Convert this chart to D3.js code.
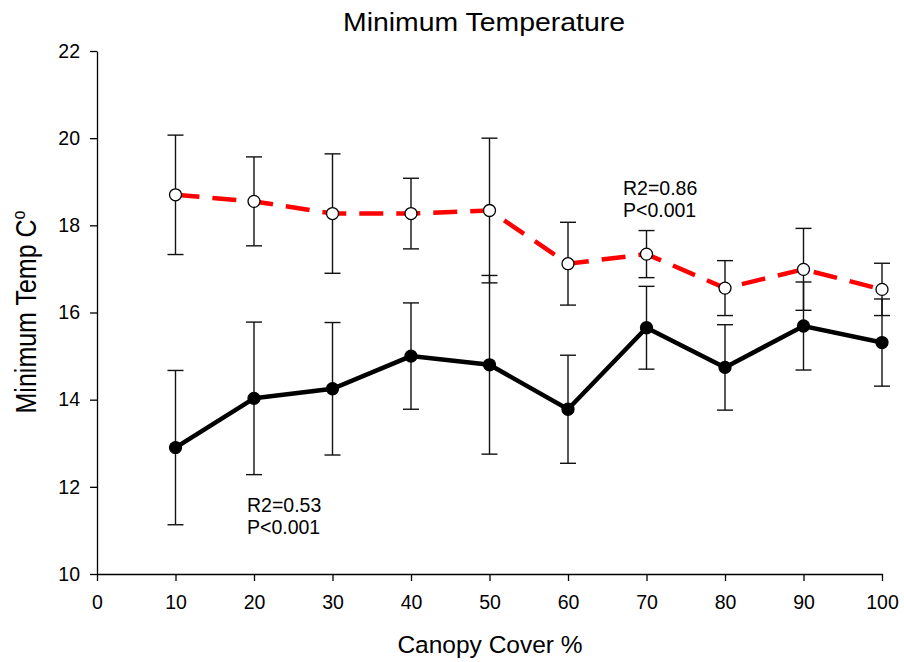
<!DOCTYPE html>
<html>
<head>
<meta charset="utf-8">
<script src="https://cdn.jsdelivr.net/npm/d3@7"></script>
<style>
  body { margin: 0; background: white; }
  text { font-family: "Liberation Sans", Arial, sans-serif; fill: black; }
</style>
</head>
<body>
<div id="chart"></div>
<script>
// canopy cover classes
const cover = [10, 20, 30, 40, 50, 60, 70, 80, 90, 100]

// red dashed series (open circles)
const redMean = [18.70, 18.55, 18.27, 18.27, 18.34, 17.12, 17.34, 16.56, 16.99, 16.53]
const redErr  = [1.37, 1.02, 1.37, 0.81, 1.66, 0.95, 0.54, 0.63, 0.94, 0.60]

// black solid series (filled circles)
const blackMean = [12.90, 14.03, 14.25, 15.00, 14.80, 13.78, 15.65, 14.74, 15.69, 15.31]
const blackErr  = [1.77, 1.75, 1.52, 1.22, 2.05, 1.24, 0.95, 0.98, 1.01, 1.00]

const xTicks = [0, 10, 20, 30, 40, 50, 60, 70, 80, 90, 100]
const yTicks = [10, 12, 14, 16, 18, 20, 22]

const svg = d3.select("#chart").append("svg")
    .attr("width", 904)
    .attr("height", 662)

const x = d3.scaleLinear().domain([0, 100]).range([97, 882])
const y = d3.scaleLinear().domain([10, 22]).range([574, 51])

// axes
const xAxis = svg.append("g")
    .attr("transform", "translate(0,574)")
    .call(d3.axisBottom(x).tickValues(xTicks).tickSize(7).tickPadding(14).tickSizeOuter(0))
const yAxis = svg.append("g")
    .attr("transform", "translate(97,0)")
    .call(d3.axisLeft(y).tickValues(yTicks).tickSize(7).tickPadding(10).tickSizeOuter(0))

;[xAxis, yAxis].forEach(a => {
    a.selectAll("path, line").attr("stroke", "black").attr("stroke-width", 1.3)
    a.selectAll("text").style("font-size", "19.5px").style("font-family", "Liberation Sans, Arial, sans-serif")
})

const series = [
    { mean: redMean, err: redErr, color: "#ff0000", dash: "24,13", fill: "white" },
    { mean: blackMean, err: blackErr, color: "black", dash: null, fill: "black" }
]

const line = d3.line().x((d, i) => x(cover[i])).y(d => y(d))

// error bars
series.forEach(s => {
    const g = svg.append("g")
    s.mean.forEach((m, i) => {
        const cx = x(cover[i])
        const top = y(m + s.err[i]), bot = y(m - s.err[i])
        g.append("line").attr("x1", cx).attr("x2", cx).attr("y1", top).attr("y2", bot)
            .attr("stroke", "#111").attr("stroke-width", 1.4)
        ;[top, bot].forEach(yy => {
            g.append("line").attr("x1", cx - 8).attr("x2", cx + 8).attr("y1", yy).attr("y2", yy)
                .attr("stroke", "#111").attr("stroke-width", 1.4)
        })
    })
})

// lines
series.forEach(s => {
    svg.append("path")
        .datum(s.mean)
        .attr("d", line)
        .attr("fill", "none")
        .attr("stroke", s.color)
        .attr("stroke-width", 4.5)
        .attr("stroke-dasharray", s.dash)
})

// markers
series.forEach(s => {
    svg.append("g").selectAll("circle")
        .data(s.mean)
        .join("circle")
        .attr("cx", (d, i) => x(cover[i]))
        .attr("cy", d => y(d))
        .attr("r", 6)
        .attr("fill", s.fill)
        .attr("stroke", "black")
        .attr("stroke-width", 1.3)
})

// titles
svg.append("text").attr("x", 484).attr("y", 31).attr("text-anchor", "middle")
    .attr("textLength", 282).attr("lengthAdjust", "spacingAndGlyphs")
    .style("font-size", "25px").text("Minimum Temperature")
svg.append("text").attr("x", 490).attr("y", 653).attr("text-anchor", "middle")
    .style("font-size", "24.5px").text("Canopy Cover %")

const yl = svg.append("text")
    .attr("transform", "translate(36,312) scale(1.15,1) rotate(-90)")
    .attr("text-anchor", "middle")
    .style("font-size", "25px")
yl.append("tspan").text("Minimum Temp C")
yl.append("tspan").attr("dy", -10).style("font-size", "16px").text("o")

// annotations
const addNote = (xv, yv, lines) => {
    lines.forEach((t, i) => {
        svg.append("text").attr("x", xv).attr("y", yv + i * 22)
            .style("font-size", "19.5px").text(t)
    })
}
addNote(623, 195, ["R2=0.86", "P<0.001"])
addNote(247, 512, ["R2=0.53", "P<0.001"])
</script>
</body>
</html>
